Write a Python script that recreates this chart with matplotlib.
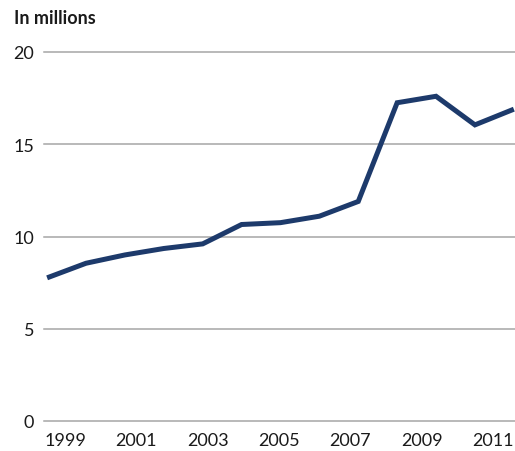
import numpy as np
import matplotlib
matplotlib.use("Agg")
import matplotlib.pyplot as plt

years = [1999, 2000, 2001, 2002, 2003, 2004, 2005, 2006, 2007, 2008, 2009, 2010, 2011]
values = [7.76, 8.55, 9.0, 9.35, 9.6, 10.65, 10.75, 11.1, 11.9, 17.25, 17.6, 16.05, 16.9]
tick_labels = ["1999", "2001", "2003", "2005", "2007", "2009", "2011"]
y_ticks = [0, 5, 10, 15, 20]

plt.rcParams["font.family"] = ["Lato", "DejaVu Sans"]

fig = plt.figure(figsize=(5.15, 4.52), dpi=100)
ax = fig.add_axes([44 / 515, 1 - 422 / 452, 471 / 515, 369 / 452])

for y in y_ticks:
    ax.axhline(y, color="#a6a6a6", linewidth=1.1, zorder=1, clip_on=False)

ax.plot(years, values, color="#1d3a6b", linewidth=3.6, solid_joinstyle="miter",
        solid_capstyle="butt", zorder=3)

ax.set_xlim(1998.92, 2011.03)
ax.set_ylim(0, 20)
ax.set_yticks(y_ticks)
ax.set_yticklabels([str(v) for v in y_ticks])
# year labels are spread evenly under the plot, not exactly under the points
ax.set_xticks(np.linspace(1999.46, 2010.47, len(tick_labels)))
ax.set_xticklabels(tick_labels)
ax.tick_params(axis="both", length=0, labelsize=13, colors="#1a1a1a")
ax.tick_params(axis="y", pad=7)
ax.tick_params(axis="x", pad=8)
for s in ax.spines.values():
    s.set_visible(False)

fig.text(14 / 515, 1 - 18 / 452, "In millions", fontsize=13, fontweight="bold",
         va="center", ha="left", color="#1a1a1a")

fig.savefig("out.png", dpi=100)
